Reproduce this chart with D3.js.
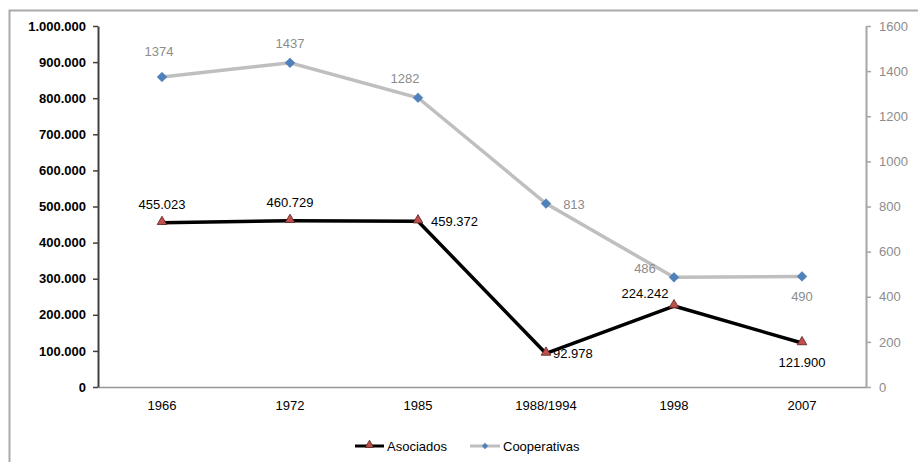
<!DOCTYPE html>
<html>
<head>
<meta charset="utf-8">
<script src="https://cdn.jsdelivr.net/npm/d3@7"></script>
<style>
  body { margin: 0; background: #fff; }
  text { font-family: "Liberation Sans", Arial, sans-serif; }
</style>
</head>
<body>
<div id="container"></div>
<script>
const years = ['1966', '1972', '1985', '1988/1994', '1998', '2007'];
const asociados = [455023, 460729, 459372, 92978, 224242, 121900];
const cooperativas = [1374, 1437, 1282, 813, 486, 490];
const leftTicks = [0, 100000, 200000, 300000, 400000, 500000, 600000, 700000, 800000, 900000, 1000000];
const rightTicks = [0, 200, 400, 600, 800, 1000, 1200, 1400, 1600];
// label placement per point: [dx, dy, anchor]
const asocLabelPos = [['0', -14, 'middle'], ['0', -14, 'middle'], ['13', 5, 'start'], ['7', 5, 'start'], ['-29', -8, 'middle'], ['0', 24, 'middle']];
const coopLabelPos = [['-3', -21, 'middle'], ['0', -15, 'middle'], ['-13', -15, 'middle'], ['28', 5, 'middle'], ['-29', -4, 'middle'], ['0', 25, 'middle']];

const width = 918;
const height = 462;
const margin = { top: 26, bottom: 75, left: 98, right: 52 };

const svg = d3.select('#container')
    .append('svg')
    .attr('width', width)
    .attr('height', height);

// outer frame
svg.append('rect')
    .attr('x', 9.5).attr('y', 10.5)
    .attr('width', width + 10).attr('height', height + 10)
    .attr('fill', 'none')
    .attr('stroke', '#aaaaaa')
    .attr('stroke-width', 2);

const x = d3.scaleBand()
    .domain(years)
    .range([margin.left, width - margin.right]);

const yL = d3.scaleLinear()
    .domain([0, 1000000])
    .range([height - margin.bottom, margin.top]);

const yR = d3.scaleLinear()
    .domain([0, 1600])
    .range([height - margin.bottom, margin.top]);

const fmt = d3.formatLocale({ decimal: ',', thousands: '.', grouping: [3], currency: ['', ''] }).format(',.0f');

// x axis
const xAxis = svg.append('g')
    .attr('transform', `translate(0,${height - margin.bottom})`)
    .call(d3.axisBottom(x).tickSize(0).tickPadding(14));
xAxis.select('.domain').attr('stroke', '#969696').attr('stroke-width', 1.5);
xAxis.selectAll('text').attr('font-size', 13).attr('fill', '#000')
    .attr('font-family', '"Liberation Sans", Arial, sans-serif');

// left axis
const leftAxis = svg.append('g')
    .attr('transform', `translate(${margin.left},0)`)
    .call(d3.axisLeft(yL).tickValues(leftTicks).tickFormat(fmt).tickSize(5).tickSizeOuter(0).tickPadding(7));
leftAxis.select('.domain').attr('stroke', '#404040').attr('stroke-width', 2);
leftAxis.selectAll('line').attr('stroke', '#404040').attr('stroke-width', 1.5);
leftAxis.selectAll('text').attr('font-size', 13).attr('fill', '#000').attr('font-weight', 'bold')
    .attr('font-family', '"Liberation Sans", Arial, sans-serif');

// right axis
const rightAxis = svg.append('g')
    .attr('transform', `translate(${width - margin.right},0)`)
    .call(d3.axisRight(yR).tickValues(rightTicks).tickFormat(d3.format('d')).tickSize(5).tickSizeOuter(0).tickPadding(8));
rightAxis.select('.domain').attr('stroke', '#a6a6a6').attr('stroke-width', 2);
rightAxis.selectAll('line').attr('stroke', '#a6a6a6').attr('stroke-width', 1.5);
rightAxis.selectAll('text').attr('font-size', 13).attr('fill', '#8c8c8c')
    .attr('font-family', '"Liberation Sans", Arial, sans-serif');

const cx = (d, i) => x(years[i]) + x.bandwidth() / 2;

// cooperativas line
svg.append('path')
    .datum(cooperativas)
    .attr('fill', 'none')
    .attr('stroke', '#bfbfbf')
    .attr('stroke-width', 3.5)
    .attr('d', d3.line().x(cx).y(d => yR(d)));

svg.append('g')
    .selectAll('path')
    .data(cooperativas)
    .join('path')
    .attr('transform', (d, i) => `translate(${cx(d, i)},${yR(d)})`)
    .attr('d', d3.symbol(d3.symbolDiamond2, 60))
    .attr('fill', '#4f81bd')
    .attr('stroke', '#3f6fa8')
    .attr('stroke-width', 0.5);

svg.append('g')
    .selectAll('text')
    .data(cooperativas)
    .join('text')
    .attr('x', (d, i) => cx(d, i) + (+coopLabelPos[i][0]))
    .attr('y', (d, i) => yR(d) + coopLabelPos[i][1])
    .attr('text-anchor', (d, i) => coopLabelPos[i][2])
    .attr('font-size', 13)
    .attr('fill', '#8c8c8c')
    .text(d => d);

// asociados line
svg.append('path')
    .datum(asociados)
    .attr('fill', 'none')
    .attr('stroke', '#000')
    .attr('stroke-width', 3.5)
    .attr('stroke-linejoin', 'round')
    .attr('d', d3.line().x(cx).y(d => yL(d)));

svg.append('g')
    .selectAll('path')
    .data(asociados)
    .join('path')
    .attr('transform', (d, i) => `translate(${cx(d, i)},${yL(d) - 1})`)
    .attr('d', d3.symbol(d3.symbolTriangle, 40))
    .attr('fill', '#c0504d')
    .attr('stroke', '#5a1f1e')
    .attr('stroke-width', 0.8);

svg.append('g')
    .selectAll('text')
    .data(asociados)
    .join('text')
    .attr('x', (d, i) => cx(d, i) + (+asocLabelPos[i][0]))
    .attr('y', (d, i) => yL(d) + asocLabelPos[i][1])
    .attr('text-anchor', (d, i) => asocLabelPos[i][2])
    .attr('font-size', 13)
    .attr('fill', '#000')
    .text(d => fmt(d));

// legend
const legend = svg.append('g').attr('transform', 'translate(355,446)');
legend.append('line').attr('x1', 0).attr('x2', 29).attr('stroke', '#000').attr('stroke-width', 3);
legend.append('path').attr('transform', 'translate(14.5,-1)')
    .attr('d', d3.symbol(d3.symbolTriangle, 30))
    .attr('fill', '#c0504d').attr('stroke', '#5a1f1e').attr('stroke-width', 0.8);
legend.append('text').attr('x', 32).attr('y', 5).attr('font-size', 13).attr('fill', '#000').text('Asociados');

legend.append('line').attr('x1', 115).attr('x2', 145).attr('stroke', '#bfbfbf').attr('stroke-width', 3);
legend.append('path').attr('transform', 'translate(130,0)')
    .attr('d', d3.symbol(d3.symbolDiamond2, 25))
    .attr('fill', '#4f81bd');
legend.append('text').attr('x', 148).attr('y', 5).attr('font-size', 13).attr('fill', '#000').text('Cooperativas');
</script>
</body>
</html>
